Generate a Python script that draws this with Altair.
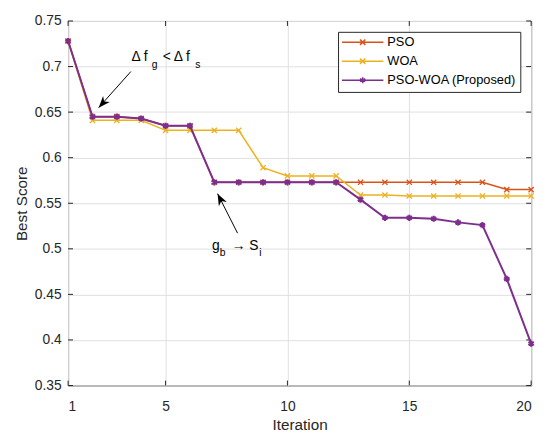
import math
import altair as alt
import pandas as pd

# ---------------- data ----------------
iterations = list(range(1, 21))
pso = [0.728, 0.645, 0.645, 0.643, 0.635, 0.635, 0.573, 0.573, 0.573, 0.573,
       0.573, 0.573, 0.573, 0.573, 0.573, 0.573, 0.573, 0.573, 0.565, 0.565]
woa = [0.728, 0.641, 0.641, 0.641, 0.630, 0.630, 0.630, 0.630, 0.589, 0.580,
       0.580, 0.580, 0.559, 0.559, 0.558, 0.558, 0.558, 0.558, 0.558, 0.558]
pso_woa = [0.728, 0.645, 0.645, 0.643, 0.635, 0.635, 0.573, 0.573, 0.573, 0.573,
           0.573, 0.573, 0.554, 0.534, 0.534, 0.533, 0.529, 0.526, 0.467, 0.396]

series_names = ["PSO", "WOA", "PSO-WOA (Proposed)"]
series_colors = ["#D95319", "#EDB120", "#7E2F8E"]
x_ticks = [1, 5, 10, 15, 20]
y_ticks = [0.35, 0.4, 0.45, 0.5, 0.55, 0.6, 0.65, 0.7, 0.75]
x_domain = [1, 20]
y_domain = [0.35, 0.75]

# annotation anchors (data coordinates): arrow tail and tip
ann1_tail = (3.575, 0.6945)
ann1_tip = (2.253, 0.6549)
ann2_tail = (7.953, 0.5172)
ann2_tip = (7.133, 0.5605)

# ---------------- styling ----------------
W, H = 470, 370
FONT = "Liberation Sans"
AX = "#262626"
TICK_LEN = 5

X_PATH = "M-1,-1L1,1M-1,1L1,-1"
STAR_PATH = "M0,-1L0,1M-0.87,-0.5L0.87,0.5M-0.87,0.5L0.87,-0.5"
LEG_X = "M-4.2,0L4.2,0M-0.55,-0.55L0.55,0.55M-0.55,0.55L0.55,-0.55"
LEG_STAR = "M-4.2,0L4.2,0M0,-0.6L0,0.6M-0.52,-0.3L0.52,0.3M-0.52,0.3L0.52,-0.3"
HEAD = "M0,0L0.65,1.7L0,1.2L-0.65,1.7Z"

rows = []
for name, vals in zip(series_names, [pso, woa, pso_woa]):
    for it, v in zip(iterations, vals):
        rows.append({"Iteration": it, "Best Score": v, "series": name})
df = pd.DataFrame(rows)

xscale = alt.Scale(domain=x_domain, nice=False, zero=False)
yscale = alt.Scale(domain=y_domain, nice=False, zero=False)

X = alt.X("Iteration:Q", scale=xscale,
          axis=alt.Axis(values=x_ticks, format="d", title="Iteration", grid=True,
                        labelPadding=14, titlePadding=5))
Y = alt.Y("Best Score:Q", scale=yscale,
          axis=alt.Axis(values=y_ticks, format=".2~f", title="Best Score", grid=True,
                        labelPadding=7, titlePadding=5))

layers = []

# inward tick marks on all four sides
xt = pd.DataFrame({"Iteration": x_ticks})
yt = pd.DataFrame({"Best Score": y_ticks})
layers.append(alt.Chart(xt).mark_rule(color=AX, strokeWidth=1).encode(
    x=X, y=alt.value(H), y2=alt.value(H - TICK_LEN)))
layers.append(alt.Chart(xt).mark_rule(color=AX, strokeWidth=1).encode(
    x=X, y=alt.value(0), y2=alt.value(TICK_LEN)))
layers.append(alt.Chart(yt).mark_rule(color=AX, strokeWidth=1).encode(
    y=Y, x=alt.value(0), x2=alt.value(TICK_LEN)))
layers.append(alt.Chart(yt).mark_rule(color=AX, strokeWidth=1).encode(
    y=Y, x=alt.value(W), x2=alt.value(W - TICK_LEN)))

# series: line then markers, in drawing order
styles = {
    "PSO": dict(lw=1.5, shape=X_PATH, size=28, msw=1.3),
    "WOA": dict(lw=1.5, shape=X_PATH, size=28, msw=1.3),
    "PSO-WOA (Proposed)": dict(lw=2, shape=STAR_PATH, size=40, msw=2.2),
}
for name, col in zip(series_names, series_colors):
    st = styles[name]
    sub = df[df["series"] == name]
    layers.append(alt.Chart(sub).mark_line(color=col, strokeWidth=st["lw"]).encode(x=X, y=Y))
    layers.append(alt.Chart(sub).mark_point(shape=st["shape"], filled=False, color=col,
                                            size=st["size"], strokeWidth=st["msw"],
                                            opacity=1).encode(x=X, y=Y))

# legend (from an empty layer carrying the colour/shape scales)
leg = alt.Legend(title=None, orient="top-right", offset=11, symbolSize=100,
                 symbolStrokeWidth=1.5, symbolOffset=14.5, labelOffset=18.5,
                 rowPadding=5.3, padding=4, strokeColor=AX, fillColor="white",
                 labelFont=FONT, labelFontSize=13, labelColor="#000000",
                 cornerRadius=0)
layers.append(
    alt.Chart(df).transform_filter("false")
    .mark_point(filled=False, opacity=1, size=100, strokeWidth=1.5)
    .encode(
        x=X, y=Y,
        color=alt.Color("series:N", scale=alt.Scale(domain=series_names, range=series_colors), legend=leg),
        shape=alt.Shape("series:N", scale=alt.Scale(domain=series_names, range=[LEG_X, LEG_X, LEG_STAR]), legend=leg),
    )
)

# annotations
one = pd.DataFrame({"k": [0]})


def head_angle(tail, tip):
    dxp = (tip[0] - tail[0]) * W / (x_domain[1] - x_domain[0])
    dyp = -(tip[1] - tail[1]) * H / (y_domain[1] - y_domain[0])
    return math.degrees(math.atan2(dxp, -dyp)) % 360


ann1_text = [("Δ f", 0.6, -10.3, 14), ("g", 21.3, -3.3, 10.5),
             ("< Δ f", 32.3, -10.3, 14), ("s", 65.3, -3.3, 10.5)]
ann2_text = [("g", -26, 16.7, 14), ("b", -18, 23.2, 10.5), ("→", -6, 16.7, 14),
             ("S", 12, 16.7, 14), ("i", 22, 23.2, 10.5)]

for tail, tip, frags in [(ann1_tail, ann1_tip, ann1_text), (ann2_tail, ann2_tip, ann2_text)]:
    layers.append(alt.Chart(one).mark_rule(color="black", strokeWidth=1).encode(
        x=alt.datum(tail[0]), y=alt.datum(tail[1]),
        x2=alt.datum(tip[0]), y2=alt.datum(tip[1])))
    layers.append(alt.Chart(one).mark_point(shape=HEAD, filled=True, color="black",
                                            size=196, strokeWidth=0, opacity=1,
                                            angle=head_angle(tail, tip)).encode(
        x=alt.datum(tip[0]), y=alt.datum(tip[1])))
    for txt, dx, dy, fs in frags:
        layers.append(alt.Chart(one).mark_text(text=txt, dx=dx, dy=dy, fontSize=fs,
                                               font=FONT, align="left",
                                               baseline="alphabetic", color="black").encode(
            x=alt.datum(tail[0]), y=alt.datum(tail[1])))

chart = (
    alt.layer(*layers)
    .properties(width=W, height=H, autosize=alt.AutoSizeParams(type="none"),
                padding={"left": 61, "top": 10, "right": 10, "bottom": 44},
                background="white")
    .configure_axis(labelFont=FONT, titleFont=FONT, labelFontSize=14, titleFontSize=15.5,
                    labelColor=AX, titleColor=AX, titleFontWeight="normal",
                    gridColor="#dfdfdf", gridWidth=1, domain=False, ticks=False, tickSize=0)
    .configure_view(stroke=AX, strokeWidth=1)
)

chart.save("out.html", embed_options={"renderer": "svg", "actions": False})
